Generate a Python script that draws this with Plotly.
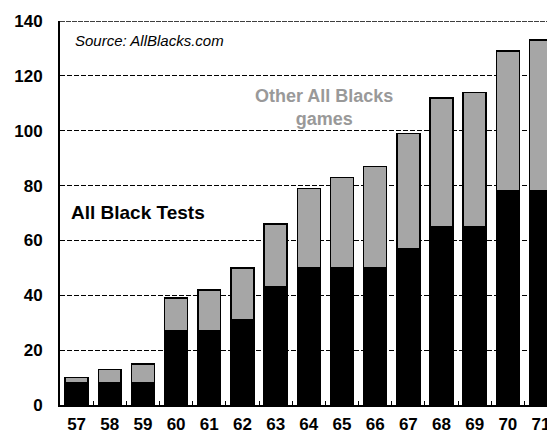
import plotly.graph_objects as go

years = ["57", "58", "59", "60", "61", "62", "63", "64", "65", "66", "67", "68", "69", "70", "71"]
tests = [8, 8, 8, 27, 27, 31, 43, 50, 50, 50, 57, 65, 65, 78, 78]
totals = [10, 13, 15, 39, 42, 50, 66, 79, 83, 87, 99, 112, 114, 129, 133]
other = [t - s for t, s in zip(totals, tests)]
y_ticks = [0, 20, 40, 60, 80, 100, 120, 140]

FONT = "Liberation Sans, Arial, sans-serif"

fig = go.Figure()
fig.add_trace(go.Bar(x=years, y=tests, name="All Black Tests",
                     marker=dict(color="#000000", line=dict(color="#000000", width=1.5))))
fig.add_trace(go.Bar(x=years, y=other, name="Other All Blacks games",
                     marker=dict(color="#a6a6a6", line=dict(color="#000000", width=1.5))))

fig.update_layout(
    width=547, height=434,
    margin=dict(l=60, r=0, t=21, b=29),
    barmode="stack", bargap=0.31,
    plot_bgcolor="white", paper_bgcolor="white",
    showlegend=False,
    font=dict(family=FONT, color="#000000"),
)
fig.update_xaxes(
    type="category", range=[-0.5, 14.18], automargin=False,
    showline=True, linecolor="#000000", linewidth=2,
    ticks="inside", tickson="boundaries", ticklen=4, tickcolor="#000000", tickwidth=1,
    ticklabelstandoff=3,
    tickfont=dict(size=17, family=FONT, color="#000000", weight="bold"),
    showgrid=False, fixedrange=True,
)
fig.update_yaxes(
    range=[0, 140], tickvals=y_ticks, automargin=False,
    showline=True, linecolor="#000000", linewidth=2,
    ticks="", ticklabelstandoff=12,
    tickfont=dict(size=17, family=FONT, color="#000000", weight="bold"),
    showgrid=True, gridcolor="#000000", gridwidth=1, griddash="5px,2px",
    zeroline=False,
)

fig.add_shape(type="line", xref="paper", yref="y", x0=0, x1=1, y0=140, y1=140,
              line=dict(color="#000000", width=1.5, dash="5px,1px"), layer="above")

fig.add_annotation(text="Source: AllBlacks.com", xref="paper", yref="paper",
                   x=0.026, y=0.948, xanchor="left", yanchor="middle", showarrow=False,
                   font=dict(size=15, family=FONT, color="#000000", style="italic"))
fig.add_annotation(text="<b>All Black Tests</b>", xref="paper", yref="paper",
                   x=0.0185, y=0.5026, xanchor="left", yanchor="middle", showarrow=False,
                   font=dict(size=19, family=FONT, color="#000000"))
fig.add_annotation(text="<b>Other All Blacks<br>games</b>", xref="paper", yref="paper",
                   x=0.542, y=0.776, xanchor="center", yanchor="middle", showarrow=False,
                   font=dict(size=18, family=FONT, color="#999999"))

fig.write_html("out.html", config={"displayModeBar": False})
